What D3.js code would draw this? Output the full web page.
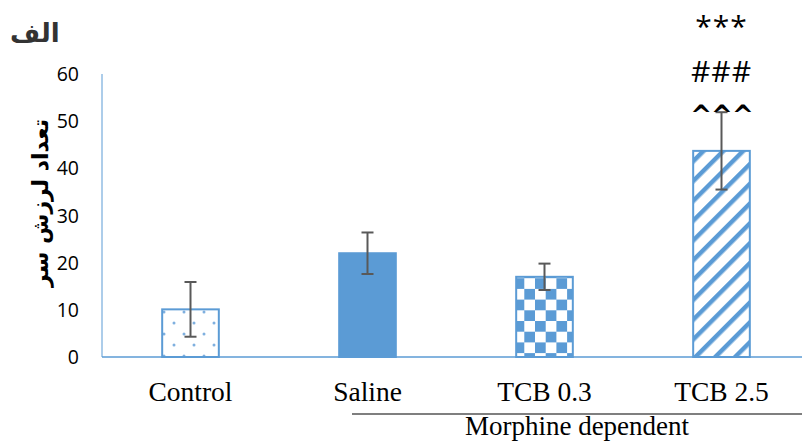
<!DOCTYPE html>
<html>
<head>
<meta charset="utf-8">
<script src="https://cdn.jsdelivr.net/npm/d3@7"></script>
<style>
  body { margin: 0; background: #fff; }
  svg { display: block; }
</style>
</head>
<body>
<svg id="chart" width="802" height="441"></svg>
<script>
// data
var groups = ["Control", "Saline", "TCB 0.3", "TCB 2.5"];
var means = [10.1, 22.0, 17.0, 43.7];
var errs = [5.8, 4.4, 2.8, 8.2];
var fills = ["dots", "solid", "checker", "stripes"];
var yTicks = [0, 10, 20, 30, 40, 50, 60];
var marks = ["***", "###", "^^^"];

var blue = "#5b9bd5";
var svg = d3.select("#chart");

var x = d3.scaleBand().domain(groups).range([102, 810]).paddingInner(0.68).paddingOuter(0.34);
var y = d3.scaleLinear().domain([0, 60]).range([357, 74]);

// patterns
var defs = svg.append("defs");
var dots = defs.append("pattern").attr("id", "dots")
    .attr("patternUnits", "userSpaceOnUse").attr("width", 20).attr("height", 22);
dots.append("rect").attr("width", 20).attr("height", 22).attr("fill", "#fff");
dots.append("circle").attr("cx", 4).attr("cy", 4).attr("r", 1.5).attr("fill", "#7fb0df");
dots.append("circle").attr("cx", 14).attr("cy", 15).attr("r", 1.5).attr("fill", "#7fb0df");

var chk = defs.append("pattern").attr("id", "checker")
    .attr("patternUnits", "userSpaceOnUse").attr("width", 21.4).attr("height", 21.4);
chk.append("rect").attr("width", 21.4).attr("height", 21.4).attr("fill", "#fff");
chk.append("rect").attr("width", 10.7).attr("height", 10.7).attr("fill", blue);
chk.append("rect").attr("x", 10.7).attr("y", 10.7).attr("width", 10.7).attr("height", 10.7).attr("fill", blue);

var str = defs.append("pattern").attr("id", "stripes")
    .attr("patternUnits", "userSpaceOnUse").attr("width", 14).attr("height", 14)
    .attr("patternTransform", "rotate(45)");
str.append("rect").attr("width", 14).attr("height", 14).attr("fill", "#fff");
str.append("rect").attr("width", 4.5).attr("height", 14).attr("fill", blue);

// y axis
svg.append("line").attr("x1", 102).attr("x2", 102).attr("y1", y(60)).attr("y2", y(0))
    .attr("stroke", blue).attr("stroke-width", 1);
svg.selectAll(".ytick").data(yTicks).enter().append("text")
    .attr("class", "ytick")
    .attr("x", 79).attr("y", function (d) { return y(d); })
    .attr("dy", "0.36em").attr("text-anchor", "end")
    .attr("font-family", "Open Sans, sans-serif").attr("font-size", 19.5)
    .attr("fill", "#000")
    .text(function (d) { return d; });

// bars
svg.selectAll(".bar").data(groups).enter().append("rect")
    .attr("class", "bar")
    .attr("x", function (d) { return x(d); })
    .attr("width", x.bandwidth())
    .attr("y", function (d, i) { return y(means[i]); })
    .attr("height", function (d, i) { return y(0) - y(means[i]); })
    .attr("fill", function (d, i) { return fills[i] == "solid" ? blue : "url(#" + fills[i] + ")"; })
    .attr("stroke", blue).attr("stroke-width", 2);

// x axis
svg.append("line").attr("x1", 102).attr("x2", 802).attr("y1", y(0)).attr("y2", y(0))
    .attr("stroke", blue).attr("stroke-width", 1.5);

// error bars
var eb = svg.selectAll(".err").data(groups).enter().append("g").attr("class", "err")
    .attr("stroke", "#595959").attr("stroke-width", 2);
eb.append("line")
    .attr("x1", function (d) { return x(d) + x.bandwidth() / 2; })
    .attr("x2", function (d) { return x(d) + x.bandwidth() / 2; })
    .attr("y1", function (d, i) { return y(means[i] + errs[i]); })
    .attr("y2", function (d, i) { return y(means[i] - errs[i]); });
[1, -1].forEach(function (s) {
    eb.append("line")
        .attr("x1", function (d) { return x(d) + x.bandwidth() / 2 - 6; })
        .attr("x2", function (d) { return x(d) + x.bandwidth() / 2 + 6; })
        .attr("y1", function (d, i) { return y(means[i] + s * errs[i]); })
        .attr("y2", function (d, i) { return y(means[i] + s * errs[i]); });
});

// category labels
svg.selectAll(".xlab").data(groups).enter().append("text")
    .attr("class", "xlab")
    .attr("x", function (d) { return x(d) + x.bandwidth() / 2; })
    .attr("y", 401)
    .attr("text-anchor", "middle")
    .attr("font-family", "Liberation Serif, serif").attr("font-size", 27.5)
    .text(function (d) { return d; });

// group bracket
svg.append("line").attr("x1", 352).attr("x2", 802).attr("y1", 414).attr("y2", 414)
    .attr("stroke", "#000").attr("stroke-width", 1.2);
svg.append("text").attr("x", 577).attr("y", 435).attr("text-anchor", "middle")
    .attr("font-family", "Liberation Serif, serif").attr("font-size", 27)
    .text("Morphine dependent");

// significance marks over last bar
var last = groups[3];
svg.selectAll(".sig").data(marks).enter().append("text")
    .attr("class", "sig")
    .attr("x", x(last) + x.bandwidth() / 2)
    .attr("y", function (d, i) { return [37, 82, 124][i]; })
    .attr("text-anchor", "middle")
    .attr("font-family", function (d, i) { return i == 2 ? "DejaVu Sans, sans-serif" : "Open Sans, sans-serif"; })
    .attr("font-size", function (d, i) { return i == 2 ? 26 : 30; })
    .attr("font-weight", function (d, i) { return i == 2 ? "bold" : "normal"; })
    .attr("letter-spacing", function (d, i) { return i == 2 ? -1 : 1; })
    .text(function (d) { return d; });

// y title (Persian)
svg.append("text")
    .attr("transform", "translate(48,203) rotate(-90)")
    .attr("text-anchor", "middle")
    .attr("font-family", "DejaVu Sans, sans-serif").attr("font-weight", "bold").attr("font-size", 22)
    .text("تعداد لرزش سر");

// panel letter
svg.append("text").attr("x", 10).attr("y", 42)
    .attr("font-family", "DejaVu Sans, sans-serif").attr("font-weight", "bold").attr("font-size", 26)
    .attr("fill", "#333")
    .text("الف");
</script>
</body>
</html>
